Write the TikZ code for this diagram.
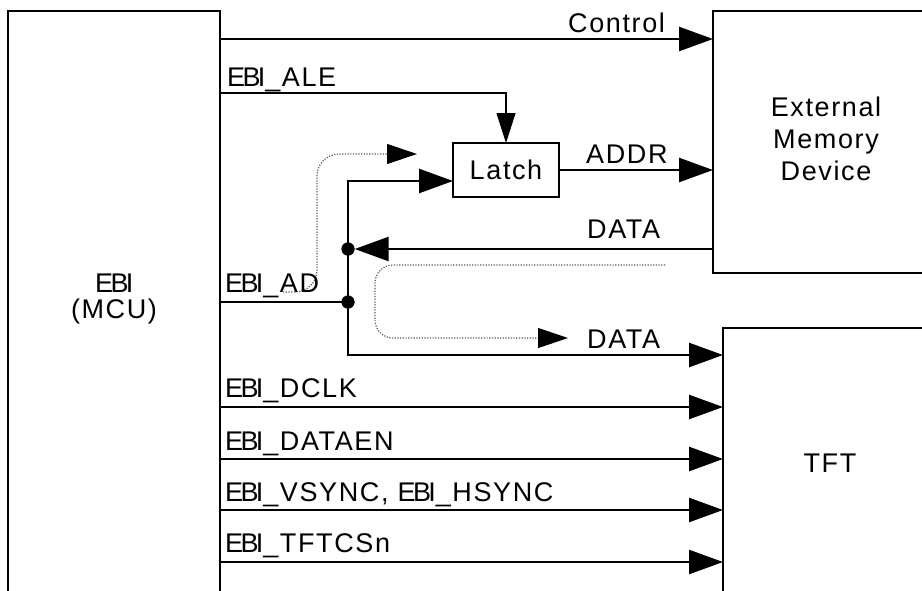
\documentclass[tikz,border=0pt]{standalone}
\usepackage{fontspec}
\setmainfont{Liberation Sans}[LetterSpace=6]
\newfontfamily\condensedfont{Liberation Sans}[LetterSpace=-10]
\newcommand\ebiword{{\condensedfont EBI}}
\usetikzlibrary{arrows.meta}
\begin{document}
\begin{tikzpicture}[x=1pt,y=-1pt,
  box/.style={draw,line width=2.4pt,inner sep=0pt,outer sep=0pt,anchor=north west},
  sig/.style={line width=2.6pt,-{Triangle[length=34pt,width=24pt]}},
  wire/.style={line width=2.6pt},
  thinsig/.style={line width=1.2pt,-{Triangle[length=30pt,width=19pt]}},
  hint/.style={black!65,line width=1.2pt,dash pattern=on 1.2pt off 1.5pt,
    -{Triangle[length=30pt,width=20pt,black]}},
  lbl/.style={font=\fontsize{27}{32}\selectfont,inner sep=0pt,anchor=base west},
  dot/.style={circle,fill,inner sep=0pt,minimum size=13pt}]
\useasboundingbox (0,0) rectangle (922,590);
\clip (0,0) rectangle (922,590);
% blocks
\node[box,minimum width=212pt,minimum height=700pt] (ebi) at (8,11) {};
\node[box,minimum width=260pt,minimum height=262pt] (ext) at (713,11) {};
\node[box,minimum width=260pt,minimum height=400pt] (tft) at (723,328) {};
\node[box,minimum width=106pt,minimum height=54pt,anchor=north west,
  font=\fontsize{27}{32}\selectfont] (latch) at (453,143) {Latch};
% block texts
\node[lbl] (ebit) at (95,292) {\ebiword};
\node[lbl,anchor=base] (mcut) at (114,318) {(MCU)};
\node[font=\fontsize{27}{32}\selectfont,align=center,inner sep=0pt] (extt) at (826,139) {External\\Memory\\Device};
\node[font=\fontsize{27}{32}\selectfont,inner sep=0pt] (tftt) at (830,463) {TFT};
% junctions
\node[dot] (j1) at (348,249) {};
\node[dot] (j2) at (348,302) {};
\coordinate (latchin) at (453,181);
\coordinate (datb) at (348,355);
% connectors
\draw[sig] (ebi.east |- 0,39) -- (ext.west |- 0,39);
\draw[thinsig] (ebi.east |- 0,93) -| (latch.north);
\draw[sig] (latch.east) -- (ext.west |- latch.east);
\draw[wire] (ebi.east |- j2) -- (j2.center);
\draw[sig] (datb) |- (latchin);
\draw[sig] (j1.center) -- (datb) -- (tft.west |- datb);
\draw[sig] (ext.west |- j1) -- (j1);
\foreach \yy in {407,459,510,562}{
  \draw[sig] (ebi.east |- 0,\yy) -- (tft.west |- 0,\yy);
}
\node[dot] at (j1) {};
\node[dot] at (j2) {};
% dotted flow hints
\draw[hint,rounded corners=22pt] (283,292) -- (317,292) -- (317,154) -- (417,154);
\draw[hint,rounded corners=18pt] (665,265) -- (375,265) -- (375,338) -- (568,338);
% labels
\node[lbl] (lctl) at (568,32) {Control};
\node[lbl] (lale) at (227,86) {\ebiword\_ALE};
\node[lbl] (lad) at (225,292) {\ebiword\_AD};
\node[lbl] (laddr) at (586,163) {ADDR};
\node[lbl] (ldata1) at (587,238) {DATA};
\node[lbl] (ldata2) at (587,348) {DATA};
\node[lbl] (ldclk) at (225,397) {\ebiword\_DCLK};
\node[lbl] (lden) at (225,450) {\ebiword\_DATAEN};
\node[lbl] (lsync) at (225,501) {\ebiword\_VSYNC, \ebiword\_HSYNC};
\node[lbl] (lcs) at (225,552) {\ebiword\_TFTCSn};
\end{tikzpicture}
\end{document}
